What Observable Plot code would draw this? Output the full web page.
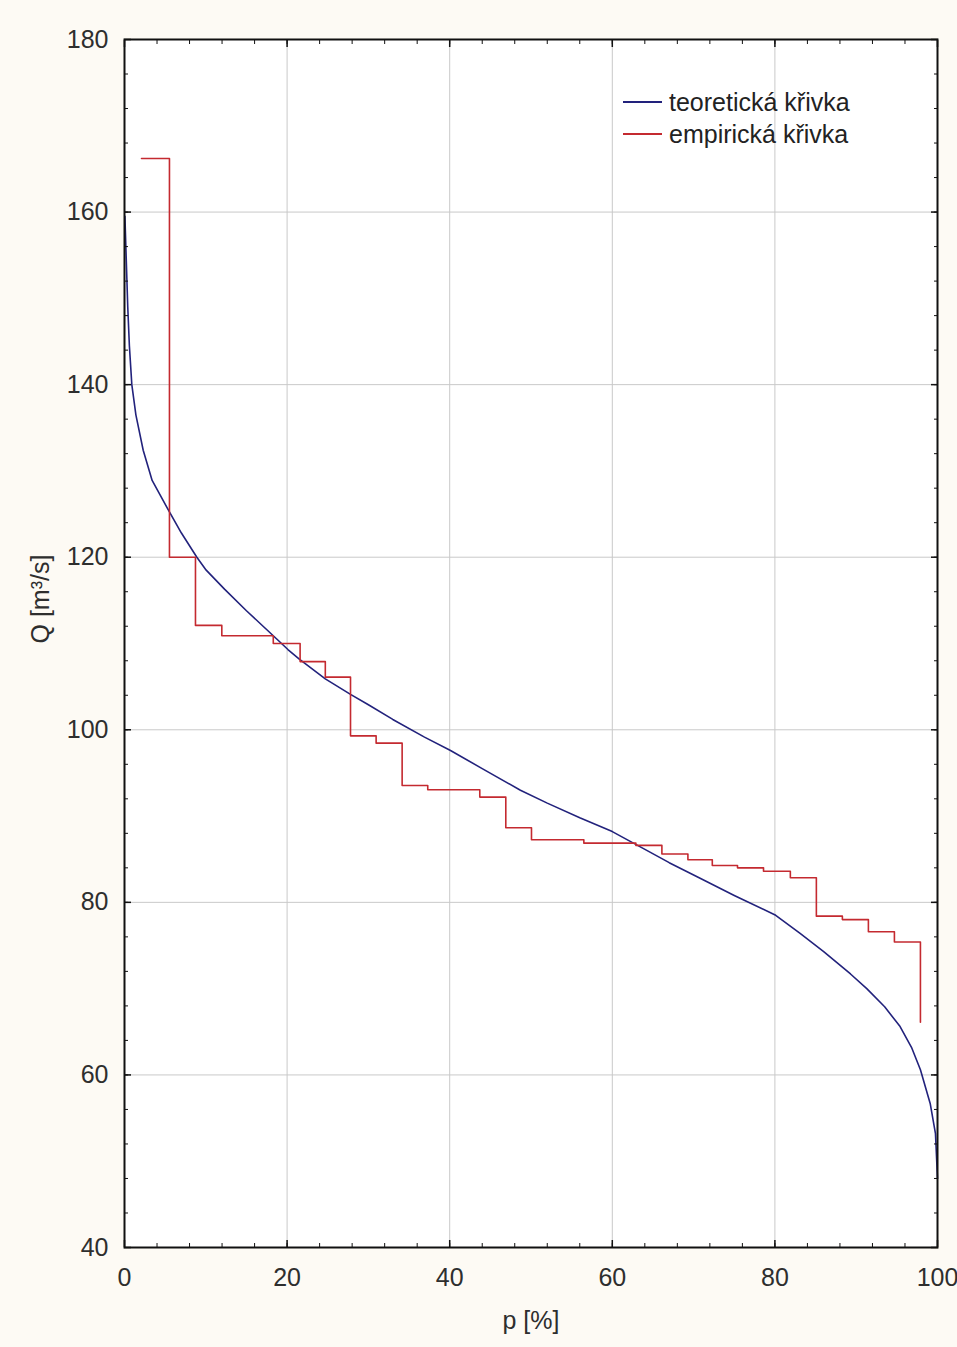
<!DOCTYPE html>
<html>
<head>
<meta charset="utf-8">
<script src="https://cdn.jsdelivr.net/npm/d3@7"></script>
<script src="https://cdn.jsdelivr.net/npm/@observablehq/plot@0.6"></script>
<style>
  html, body { margin: 0; padding: 0; background: #fdfaf4; }
  #wrap { position: relative; width: 957px; height: 1347px; font-family: "Liberation Sans", Arial, sans-serif; }
  #legend { position: absolute; left: 623px; top: 86px; color: #222; font-size: 25px; line-height: 32px; }
  #legend .row { display: flex; align-items: center; white-space: nowrap; }
  #legend .sw { width: 39px; height: 0; border-top: 2px solid; margin-right: 7px; }
</style>
</head>
<body>
<div id="wrap"></div>
<script>
// Empirical curve (step)
const empP = [2.09, 5.53, 8.73, 11.97, 15.2, 18.3, 21.6, 24.7, 27.8, 30.95, 34.15, 37.3, 40.5, 43.7, 46.9, 50.06, 53.3, 56.5, 59.7, 62.9, 66.1, 69.3, 72.3, 75.4, 78.6, 81.9, 85.1, 88.3, 91.5, 94.7, 97.9];
const empQ = [166.2, 120.0, 112.1, 110.9, 110.9, 110.0, 107.9, 106.1, 99.3, 98.45, 93.55, 93.05, 93.05, 92.2, 88.65, 87.25, 87.25, 86.86, 86.86, 86.6, 85.6, 84.94, 84.28, 84.0, 83.6, 82.85, 78.4, 78.0, 76.6, 75.4, 66.1];

// Theoretical curve
const theoP = [0.05, 0.2, 0.4, 0.6, 0.9, 1.4, 2.3, 3.4, 5.2, 7, 8.9, 10.05, 12.3, 15, 18.3, 20.1, 21.5, 24.7, 27.8, 30, 33, 36.9, 40.1, 44, 48.7, 52, 56, 60, 63.9, 67, 70.8, 75, 80.1, 83.1, 86, 89.3, 91.3, 93.5, 95.4, 96.8, 97.9, 99.1, 99.75, 100];
const theoQ = [159.5, 155, 149, 144.5, 140, 136.5, 132.4, 128.9, 125.8, 122.8, 120, 118.5, 116.3, 113.8, 110.9, 109.3, 108.2, 105.9, 104.1, 102.9, 101.2, 99.15, 97.6, 95.5, 93.0, 91.5, 89.8, 88.2, 86.2, 84.6, 82.8, 80.8, 78.5, 76.4, 74.3, 71.7, 70.0, 67.9, 65.6, 63.2, 60.6, 56.7, 53.2, 48];

const xMajor = [0, 20, 40, 60, 80, 100];
const yMajor = [40, 60, 80, 100, 120, 140, 160, 180];
const xMinor = d3.range(0, 101, 4);
const yMinor = d3.range(40, 181, 4);
const seriesNames = ["teoretická křivka", "empirická křivka"];
const seriesColors = ["#22227c", "#c42a30"];

const emp = empP.map((p, i) => ({p, q: empQ[i]}));
const theo = theoP.map((p, i) => ({p, q: theoQ[i]}));

const axisStyle = {fontSize: 25, fill: "#2e2e2e"};

const chart = Plot.plot({
  width: 957,
  height: 1347,
  marginLeft: 124,
  marginRight: 20,
  marginTop: 39,
  marginBottom: 100,
  style: {background: "transparent", fontFamily: "'Liberation Sans', Arial, sans-serif", fontSize: "25px", color: "#2e2e2e"},
  x: {domain: [0, 100]},
  y: {domain: [40, 180]},
  marks: [
    Plot.frame({fill: "white", stroke: null}),
    Plot.gridX(xMajor.slice(1, -1), {stroke: "#c9c9c9", strokeOpacity: 1, strokeWidth: 1}),
    Plot.gridY(yMajor.slice(1, -1), {stroke: "#c9c9c9", strokeOpacity: 1, strokeWidth: 1}),
    Plot.line(theo, {x: "p", y: "q", curve: "linear", stroke: seriesColors[0], strokeWidth: 1.6}),
    Plot.line(emp, {x: "p", y: "q", curve: "step-after", stroke: seriesColors[1], strokeWidth: 1.6}),
    // labels
    Plot.axisX(xMajor, {anchor: "bottom", tickSize: 0, tickPadding: 21, label: null, ...axisStyle}),
    Plot.axisY(yMajor, {anchor: "left", tickSize: 0, tickPadding: 16, label: null, ...axisStyle}),
    // inward ticks, all four sides
    Plot.axisX(xMinor, {anchor: "bottom", tickSize: -4, fill: "none", label: null, stroke: "#111"}),
    Plot.axisX(xMinor, {anchor: "top", tickSize: -4, fill: "none", label: null, stroke: "#111"}),
    Plot.axisY(yMinor, {anchor: "left", tickSize: -4, fill: "none", label: null, stroke: "#111"}),
    Plot.axisY(yMinor, {anchor: "right", tickSize: -4, fill: "none", label: null, stroke: "#111"}),
    Plot.axisX(xMajor, {anchor: "bottom", tickSize: -7, fill: "none", label: null, stroke: "#111", strokeWidth: 1.5}),
    Plot.axisX(xMajor, {anchor: "top", tickSize: -7, fill: "none", label: null, stroke: "#111", strokeWidth: 1.5}),
    Plot.axisY(yMajor, {anchor: "left", tickSize: -7, fill: "none", label: null, stroke: "#111", strokeWidth: 1.5}),
    Plot.axisY(yMajor, {anchor: "right", tickSize: -7, fill: "none", label: null, stroke: "#111", strokeWidth: 1.5}),
    // axis titles
    Plot.text(["p [%]"], {frameAnchor: "bottom", dy: 81, fontSize: 25, fill: "#2e2e2e"}),
    Plot.text(["Q [m³/s]"], {frameAnchor: "left", dx: -84, rotate: -90, fontSize: 25, fill: "#2e2e2e"}),
    Plot.frame({stroke: "#111", strokeWidth: 2})
  ]
});

const wrap = document.getElementById("wrap");
wrap.appendChild(chart);
const legend = document.createElement("div");
legend.id = "legend";
seriesNames.forEach((name, i) => {
  const row = document.createElement("div");
  row.className = "row";
  const sw = document.createElement("span");
  sw.className = "sw";
  sw.style.borderTopColor = seriesColors[i];
  const t = document.createElement("span");
  t.textContent = name;
  row.appendChild(sw);
  row.appendChild(t);
  legend.appendChild(row);
});
wrap.appendChild(legend);
</script>
</body>
</html>
